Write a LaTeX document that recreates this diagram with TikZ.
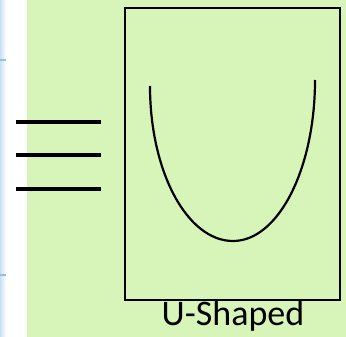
\documentclass[tikz,border=0pt]{standalone}
\usepackage{fontspec}
\setmainfont{Carlito}
\definecolor{bggreen}{RGB}{215,245,185}
\definecolor{stripblue}{RGB}{200,224,245}
\definecolor{tickblue}{RGB}{150,190,230}
\tikzset{
  eqbar/.style={line width=4pt, black},
  frame/.style={draw=black, line width=2.2pt, rectangle, inner sep=0pt},
  ucurve/.style={line width=2.2pt, black},
  caption/.style={font=\fontsize{36}{38}\selectfont, inner sep=0pt, anchor=base}
}
\begin{document}
\begin{tikzpicture}[x=1pt,y=1pt]
\useasboundingbox (0,0) rectangle (346,-337);
% background
\fill[bggreen] (0,0) rectangle (346,-337);
\fill[white] (0,0) rectangle (27,-337);
\shade[left color=stripblue, right color=white] (0,0) rectangle (6,-337);
\fill[tickblue] (0,-59) rectangle (6,-61);
\fill[tickblue] (0,-274) rectangle (6,-276);
% three bars
\coordinate (b1l) at (16,-121.7); \coordinate (b1r) at (101,-121.7);
\coordinate (b2l) at (16,-155);   \coordinate (b2r) at (101,-155);
\coordinate (b3l) at (16,-189);   \coordinate (b3r) at (101,-189);
\draw[eqbar] (b1l) -- (b1r);
\draw[eqbar] (b2l) -- (b2r);
\draw[eqbar] (b3l) -- (b3r);
% frame
\node[frame, minimum width=214.5pt, minimum height=291.5pt, anchor=north west] (box) at (124,-7) {};
% U curve
\coordinate (utop) at (150,-86);
\draw[ucurve] (utop) arc[start angle=180, end angle=270, x radius=83, y radius=155]
  arc[start angle=270, end angle=360, x radius=82, y radius=161];
% caption
\node[caption] (lbl) at (233,-325) {U-Shaped};
\end{tikzpicture}
\end{document}
